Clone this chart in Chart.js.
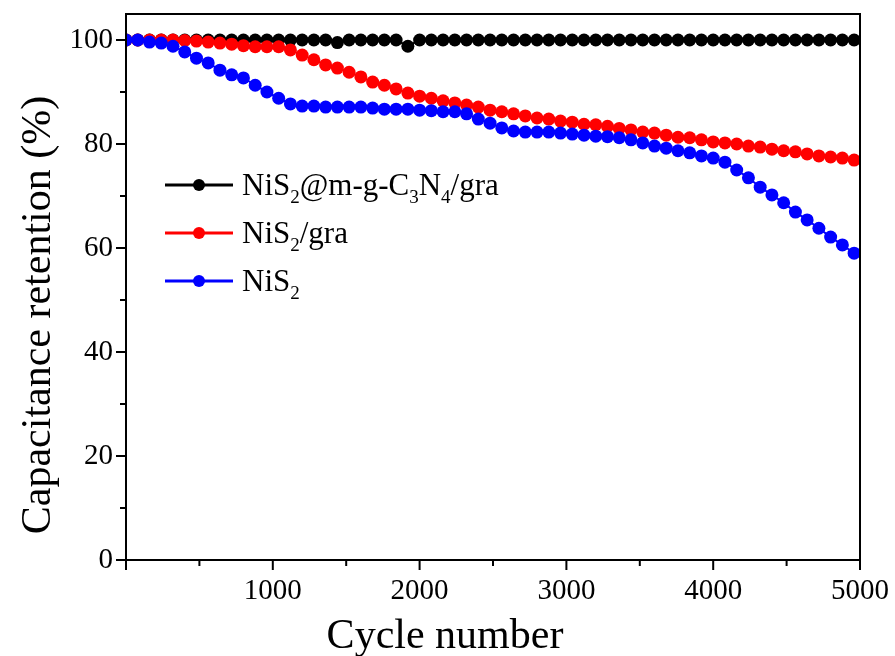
<!DOCTYPE html>
<html>
<head>
<meta charset="utf-8">
<script src="https://cdn.jsdelivr.net/npm/chart.js@4.4.1/dist/chart.umd.min.js"></script>
<style>
  html, body { margin: 0; padding: 0; background: #fff; }
  #wrap { width: 895px; height: 656px; position: relative; }
</style>
</head>
<body>
<div id="wrap"><canvas id="chart"></canvas></div>
<script>
// cycle numbers of the sampled points
const cycles = [0, 80, 160, 240, 320, 400, 480, 560, 640, 720, 800, 880, 960, 1040, 1120, 1200,
  1280, 1360, 1440, 1520, 1600, 1680, 1760, 1840, 1920, 2000, 2080, 2160, 2240, 2320, 2400,
  2480, 2560, 2640, 2720, 2800, 2880, 2960, 3040, 3120, 3200, 3280, 3360, 3440, 3520, 3600,
  3680, 3760, 3840, 3920, 4000, 4080, 4160, 4240, 4320, 4400, 4480, 4560, 4640, 4720, 4800,
  4880, 4960];

const retentionComposite = [100, 100, 100, 100, 100, 100, 100, 100, 100, 100,
  100, 100, 100, 100, 100, 100, 100, 100, 99.5, 100,
  100, 100, 100, 100, 98.8, 100, 100, 100, 100, 100,
  100, 100, 100, 100, 100, 100, 100, 100, 100, 100,
  100, 100, 100, 100, 100, 100, 100, 100, 100, 100,
  100, 100, 100, 100, 100, 100, 100, 100, 100, 100,
  100, 100, 100];

const retentionNiS2Gra = [100, 100, 100, 100, 100, 99.9, 99.8, 99.6, 99.4, 99.2,
  98.9, 98.7, 98.7, 98.7, 98.1, 97.1, 96.2, 95.2, 94.6, 93.8,
  92.9, 91.9, 91.3, 90.6, 89.8, 89.2, 88.8, 88.3, 87.9, 87.5,
  87.1, 86.5, 86.2, 85.8, 85.4, 85.0, 84.8, 84.4, 84.2, 83.8,
  83.7, 83.4, 83.0, 82.7, 82.3, 82.1, 81.7, 81.3, 81.2, 80.8,
  80.4, 80.2, 80.0, 79.6, 79.4, 79.0, 78.7, 78.5, 78.1, 77.7,
  77.5, 77.3, 76.9];

const retentionNiS2 = [100, 100, 99.6, 99.4, 98.8, 97.7, 96.5, 95.6, 94.2, 93.3,
  92.7, 91.3, 90.0, 88.8, 87.7, 87.3, 87.3, 87.1, 87.1, 87.1,
  87.1, 86.9, 86.7, 86.7, 86.7, 86.5, 86.4, 86.2, 86.2, 85.8,
  84.8, 84.0, 83.1, 82.5, 82.3, 82.3, 82.3, 82.1, 81.9, 81.7,
  81.5, 81.4, 81.2, 80.8, 80.2, 79.6, 79.2, 78.7, 78.3, 77.7,
  77.3, 76.5, 75.0, 73.5, 71.7, 70.2, 68.7, 66.9, 65.4, 63.8,
  62.1, 60.6, 59.0];

const xTicks = [0, 500, 1000, 1500, 2000, 2500, 3000, 3500, 4000, 4500, 5000];
const yTicks = [0, 10, 20, 30, 40, 50, 60, 70, 80, 90, 100];

// legend labels split into [text, isSubscript]
const legendItems = [
  { color: '#000000', parts: [['NiS', 0], ['2', 1], ['@m-g-C', 0], ['3', 1], ['N', 0], ['4', 1], ['/gra', 0]] },
  { color: '#ff0000', parts: [['NiS', 0], ['2', 1], ['/gra', 0]] },
  { color: '#0000ff', parts: [['NiS', 0], ['2', 1]] }
];

const SERIF = '"Liberation Serif", "Times New Roman", serif';
Chart.defaults.font.family = SERIF;
Chart.defaults.color = '#000';

const toPoints = ys => cycles.map((c, i) => ({ x: c, y: ys[i] }));

const series = (data, color, order) => ({
  data: toPoints(data), borderColor: color, backgroundColor: color,
  borderWidth: 2, pointRadius: 6.5, pointHoverRadius: 6.5, pointBorderWidth: 0,
  tension: 0, order
});

// keep label overflow from shrinking the plot box
const noOverflow = s => { s.paddingTop = 0; s.paddingBottom = 0; s.paddingLeft = 0; s.paddingRight = 0; };

const framePlugin = {
  id: 'frame',
  afterDraw(chart) {
    const { ctx, chartArea: a, scales: { x, y } } = chart;
    ctx.save();
    ctx.strokeStyle = '#000';
    ctx.lineWidth = 2;
    ctx.strokeRect(a.left, a.top, a.right - a.left, a.bottom - a.top);
    ctx.beginPath();
    xTicks.forEach(v => {
      const px = x.getPixelForValue(v);
      const len = v % 1000 === 0 ? 10 : 6;
      ctx.moveTo(px, a.bottom); ctx.lineTo(px, a.bottom + len);
    });
    yTicks.forEach(v => {
      const py = y.getPixelForValue(v);
      const len = v % 20 === 0 ? 10 : 6;
      ctx.moveTo(a.left, py); ctx.lineTo(a.left - len, py);
    });
    ctx.stroke();

    // axis titles
    ctx.fillStyle = '#000';
    ctx.font = '42px ' + SERIF;
    ctx.textAlign = 'center';
    ctx.textBaseline = 'alphabetic';
    ctx.fillText('Cycle number', 445, 648);
    ctx.save();
    ctx.translate(50, 315);
    ctx.rotate(-Math.PI / 2);
    ctx.fillText('Capacitance retention (%)', 0, 0);
    ctx.restore();

    // legend
    legendItems.forEach((it, i) => {
      const ly = 185 + i * 48;
      ctx.strokeStyle = it.color;
      ctx.lineWidth = 3;
      ctx.beginPath(); ctx.moveTo(165, ly); ctx.lineTo(233, ly); ctx.stroke();
      ctx.fillStyle = it.color;
      ctx.beginPath(); ctx.arc(199, ly, 6, 0, Math.PI * 2); ctx.fill();
      ctx.fillStyle = '#000';
      ctx.textAlign = 'left';
      let tx = 242;
      it.parts.forEach(([t, sub]) => {
        ctx.font = (sub ? '19px ' : '31px ') + SERIF;
        ctx.fillText(t, tx, ly + 10 + (sub ? 8 : 0));
        tx += ctx.measureText(t).width;
      });
    });
    ctx.restore();
  }
};

new Chart(document.getElementById('chart'), {
  type: 'line',
  data: {
    datasets: [
      series(retentionComposite, '#000000', 3),
      series(retentionNiS2Gra, '#ff0000', 2),
      series(retentionNiS2, '#0000ff', 1)
    ]
  },
  options: {
    responsive: true,
    maintainAspectRatio: false,
    animation: false,
    layout: { padding: { left: 0, top: 14, right: 35, bottom: 0 } },
    plugins: { legend: { display: false }, tooltip: { enabled: false } },
    scales: {
      x: {
        type: 'linear', min: 0, max: 5000,
        afterBuildTicks: s => { s.ticks = xTicks.map(v => ({ value: v })); },
        afterFit: s => { s.height = 96; noOverflow(s); },
        grid: { display: false, drawTicks: false },
        border: { display: false },
        ticks: {
          padding: 14, maxRotation: 0, autoSkip: false,
          font: { size: 29 }, color: '#000',
          callback: v => (v % 1000 === 0 && v !== 0) ? v : ''
        }
      },
      y: {
        type: 'linear', min: 0, max: 105,
        afterBuildTicks: s => { s.ticks = yTicks.map(v => ({ value: v })); },
        afterFit: s => { s.width = 126; noOverflow(s); },
        grid: { display: false, drawTicks: false },
        border: { display: false },
        ticks: {
          padding: 13, autoSkip: false,
          font: { size: 29 }, color: '#000',
          callback: v => v % 20 === 0 ? v : ''
        }
      }
    }
  },
  plugins: [framePlugin]
});
</script>
</body>
</html>
